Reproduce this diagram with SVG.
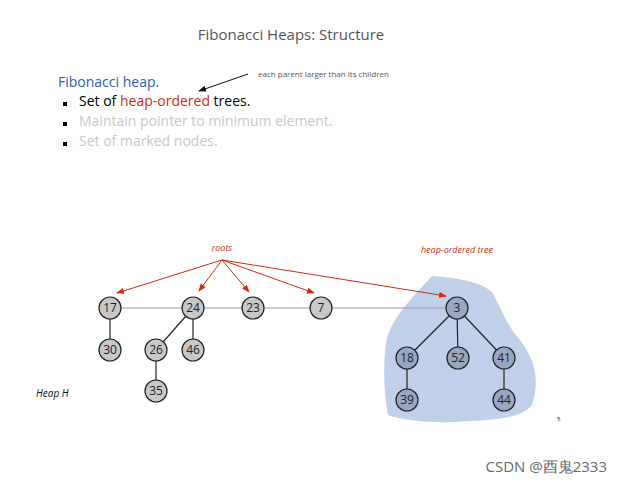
<svg xmlns="http://www.w3.org/2000/svg" width="628" height="485" viewBox="0 0 628 485">
<style>
text{font-family:"Open Sans","Liberation Sans",sans-serif}
.n circle{fill:#c8c8c8;stroke:#222;stroke-width:1.2}
.d circle{fill:#98a8c0}
.n text{font-size:12px;text-anchor:middle;fill:#222}
.e{stroke:#222;stroke-width:1.2}
.r{stroke:#d42a10;stroke-width:1;fill:none;marker-end:url(#ar)}
</style>
<defs>
<marker id="ar" markerWidth="8" markerHeight="8" refX="7" refY="4" orient="auto" markerUnits="userSpaceOnUse"><path d="M0,1 L8,4 L0,7 Z" fill="#d42a10"/></marker>
<marker id="ak" markerWidth="8" markerHeight="8" refX="7" refY="4" orient="auto" markerUnits="userSpaceOnUse"><path d="M0,1 L8,4 L0,7 Z" fill="#111"/></marker>
</defs>
<rect width="628" height="485" fill="#fff"/>
<text x="291" y="40" font-size="15" fill="#555" text-anchor="middle">Fibonacci Heaps:  Structure</text>
<text x="58" y="87" font-size="14" fill="#2a5db0">Fibonacci heap.</text>
<rect x="63" y="102" width="4" height="4" fill="#000"/>
<text x="79" y="106" font-size="14" fill="#000">Set of <tspan fill="#d42a10">heap-ordered</tspan> trees.</text>
<rect x="63" y="122" width="4" height="4" fill="#000"/>
<text x="79" y="126" font-size="14" fill="#c8c8c8">Maintain pointer to minimum element.</text>
<rect x="63" y="142" width="4" height="4" fill="#000"/>
<text x="79" y="146" font-size="14" fill="#c8c8c8">Set of marked nodes.</text>
<text x="258" y="77" font-size="8" fill="#555">each parent larger than its children</text>
<line x1="248" y1="74" x2="199" y2="91" stroke="#111" stroke-width="1" marker-end="url(#ak)"/>
<path d="M432,276 C460,278 480,282 492,292 C500,305 506,325 520,340 C535,360 540,380 532,405 C520,420 490,420 455,422 C430,423 400,420 388,415 C383,390 383,350 388,335 C395,315 410,300 432,276 Z" fill="#c0d0e8"/>
<text x="222" y="251" font-size="9" font-style="italic" fill="#d42a10" text-anchor="middle">roots</text>
<text x="457" y="253" font-size="9" font-style="italic" fill="#d42a10" text-anchor="middle">heap-ordered tree</text>
<text x="36" y="397" font-size="10" font-style="italic" fill="#111">Heap H</text>
<text x="557" y="421" font-size="6" fill="#111">5</text>
<g id="connectors">
<line x1="110" y1="308" x2="457" y2="308" stroke="#999" stroke-width="1.2"/>
<line class="e" x1="110" y1="308" x2="110" y2="350"/>
<line class="e" x1="193" y1="308" x2="156" y2="350"/>
<line class="e" x1="193" y1="308" x2="193" y2="350"/>
<line class="e" x1="156" y1="350" x2="156" y2="391"/>
<line class="e" x1="457" y1="308" x2="407" y2="358"/>
<line class="e" x1="457" y1="308" x2="458" y2="358"/>
<line class="e" x1="457" y1="308" x2="504" y2="358"/>
<line class="e" x1="407" y1="358" x2="407" y2="400"/>
<line class="e" x1="504" y1="358" x2="504" y2="400"/>
<line class="r" x1="222" y1="260" x2="117" y2="293"/>
<line class="r" x1="222" y1="260" x2="199" y2="291"/>
<line class="r" x1="222" y1="260" x2="249" y2="292"/>
<line class="r" x1="222" y1="260" x2="314" y2="293"/>
<line class="r" x1="222" y1="260" x2="446" y2="296"/>
</g>
<g id="n17" class="n"><circle cx="110" cy="308" r="11"/><text x="110" y="312">17</text></g>
<g id="n24" class="n"><circle cx="193" cy="308" r="11"/><text x="193" y="312">24</text></g>
<g id="n23" class="n"><circle cx="253" cy="308" r="11"/><text x="253" y="312">23</text></g>
<g id="n7" class="n"><circle cx="321" cy="308" r="11"/><text x="321" y="312">7</text></g>
<g id="n30" class="n"><circle cx="110" cy="350" r="11"/><text x="110" y="354">30</text></g>
<g id="n26" class="n"><circle cx="156" cy="350" r="11"/><text x="156" y="354">26</text></g>
<g id="n46" class="n"><circle cx="193" cy="350" r="11"/><text x="193" y="354">46</text></g>
<g id="n35" class="n"><circle cx="156" cy="391" r="11"/><text x="156" y="395">35</text></g>
<g id="n3" class="n d"><circle cx="457" cy="308" r="11"/><text x="457" y="312">3</text></g>
<g id="n18" class="n d"><circle cx="407" cy="358" r="11"/><text x="407" y="362">18</text></g>
<g id="n52" class="n d"><circle cx="458" cy="358" r="11"/><text x="458" y="362">52</text></g>
<g id="n41" class="n d"><circle cx="504" cy="358" r="11"/><text x="504" y="362">41</text></g>
<g id="n39" class="n d"><circle cx="407" cy="400" r="11"/><text x="407" y="404">39</text></g>
<g id="n44" class="n d"><circle cx="504" cy="400" r="11"/><text x="504" y="404">44</text></g>
<text x="607" y="472" font-size="15" fill="#666" text-anchor="end" font-family="'Noto Sans CJK SC',sans-serif">CSDN @酉鬼2333</text>
</svg>
